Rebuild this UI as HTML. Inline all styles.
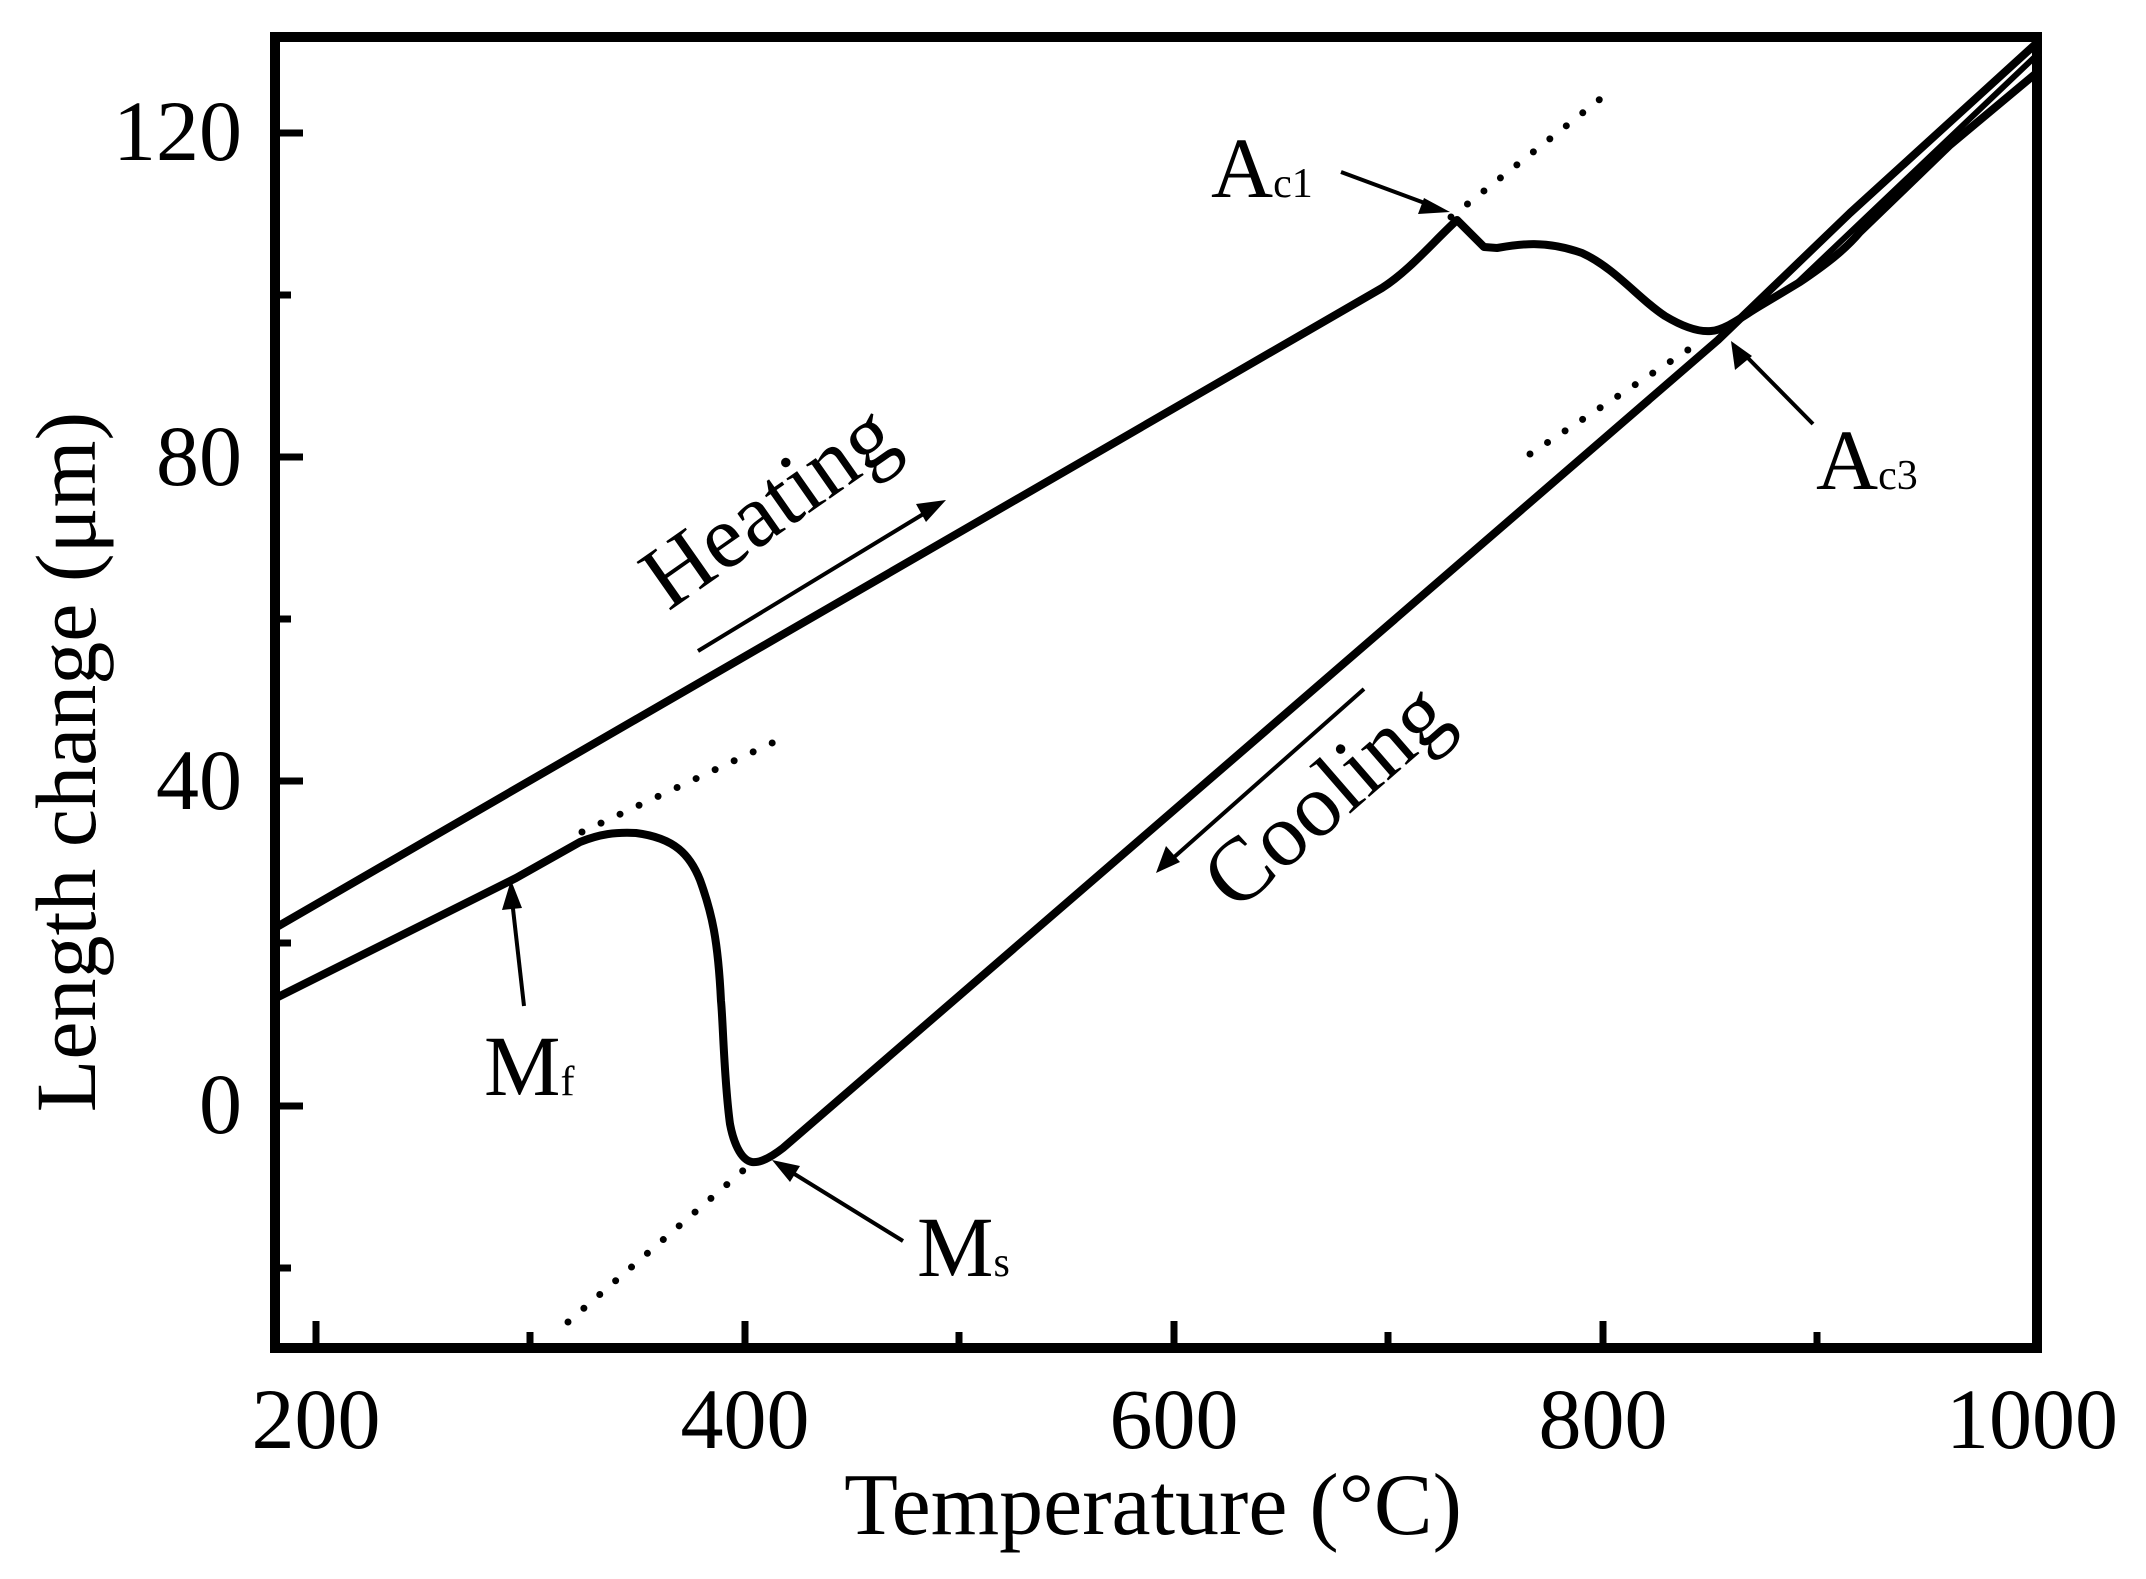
<!DOCTYPE html>
<html><head><meta charset="utf-8"><style>
html,body{margin:0;padding:0;background:#fff;}
svg{display:block;}
text{font-family:"Liberation Serif",serif;fill:#000;}
</style></head><body>
<svg width="2146" height="1579" viewBox="0 0 2146 1579" xmlns="http://www.w3.org/2000/svg">
<defs>
<clipPath id="c"><rect x="275" y="37" width="1762" height="1311"/></clipPath>
</defs>
<g clip-path="url(#c)" fill="none" stroke="#000" stroke-linecap="round" stroke-linejoin="round">
<g stroke-width="7" stroke-dasharray="0 21">
<path d="M1451,217 L1604,96"/>
<path d="M1530,454 L1700,342"/>
<path d="M582,832 L787,736"/>
<path d="M568,1322 L746,1168"/>
</g>
<path stroke-width="8" d="M275,928 L1382,288 C1410,270 1432,243 1457,220 L1484,247 L1497,248 C1520,244 1545,240 1582,253 C1615,268 1640,300 1665,316 C1685,328 1700,332 1711,331 C1725,330 1740,318 1760,306 L1800,282 C1825,265 1845,250 1860,232 L1950,145 L2040,70"/>
<path stroke-width="6" d="M1796,284 L2040,52"/>
<path stroke-width="8" d="M2040,40 L1850,213 L1718,340 L783,1148 C770,1158 760,1163 752,1162 C740,1160 733,1140 730,1124 C724,1080 723,1020 721,1001 C718,940 712,913 700,880 C690,855 675,838 636,833 C615,832 600,834 580,842 L516,878 L270,1001"/>
</g>
<rect x="275" y="37" width="1762" height="1311" fill="none" stroke="#000" stroke-width="10"/>
<g stroke="#000" stroke-width="7">
<path d="M316,1348 v-27 M745,1348 v-27 M1174,1348 v-27 M1603,1348 v-27"/>
<path d="M530,1348 v-16 M959,1348 v-16 M1388,1348 v-16 M1817,1348 v-16"/>
<path d="M275,133 h28 M275,457 h28 M275,781 h28 M275,1106 h28"/>
<path d="M275,295 h16 M275,619 h16 M275,943 h16 M275,1268 h16"/>
</g>
<g font-size="86">
<text x="242" y="160" text-anchor="end">120</text>
<text x="242" y="485" text-anchor="end">80</text>
<text x="242" y="809" text-anchor="end">40</text>
<text x="242" y="1133" text-anchor="end">0</text>
<text x="316" y="1448" text-anchor="middle">200</text>
<text x="745" y="1448" text-anchor="middle">400</text>
<text x="1174" y="1448" text-anchor="middle">600</text>
<text x="1603" y="1448" text-anchor="middle">800</text>
<text x="2032" y="1448" text-anchor="middle">1000</text>
</g>
<text x="1153" y="1534" font-size="88" text-anchor="middle">Temperature (°C)</text>
<text transform="translate(95,762) rotate(-90)" font-size="86" text-anchor="middle">Length change (μm)</text>
<g stroke="#000" stroke-width="4" fill="none">
<path d="M698,651 L925,513"/>
<path d="M1364,689 L1172,859"/>
<path d="M1341,172 L1430,205"/>
<path d="M1813,424 L1742,352"/>
<path d="M524,1006 L512,900"/>
<path d="M903,1241 L788,1170"/>
</g>
<g fill="#000">
<polygon points="946,500 916,504 926,522"/>
<polygon points="1156,873 1166,846 1180,862"/>
<polygon points="1450,212 1424,198 1418,214"/>
<polygon points="1731,341 1735,370 1752,356"/>
<polygon points="511,880 502,910 522,908"/>
<polygon points="772,1160 790,1182 800,1166"/>
</g>
<text transform="translate(785,530) rotate(-35)" font-size="90" text-anchor="middle">Heating</text>
<text transform="translate(1345,818) rotate(-41)" font-size="90" text-anchor="middle">Cooling</text>
<text x="1211" y="197" font-size="86">A<tspan font-size="42">c1</tspan></text>
<text x="1816" y="489" font-size="86">A<tspan font-size="42">c3</tspan></text>
<text x="484" y="1095" font-size="86">M<tspan font-size="42">f</tspan></text>
<text x="917" y="1276" font-size="86">M<tspan font-size="42">s</tspan></text>
</svg>
</body></html>
